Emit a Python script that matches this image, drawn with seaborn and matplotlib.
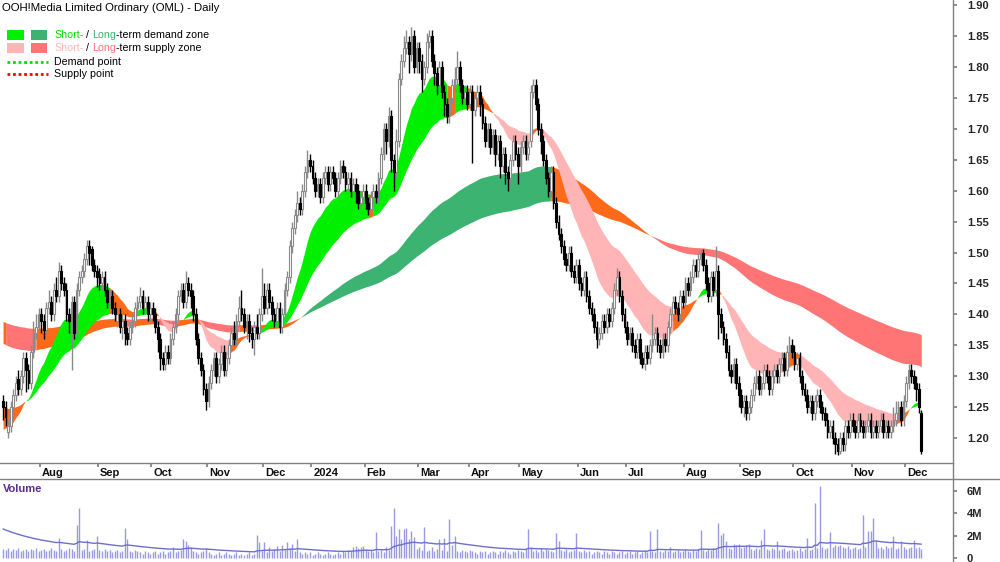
import numpy as np
import pandas as pd
import matplotlib
matplotlib.use("Agg")
import matplotlib.pyplot as plt
from matplotlib.patches import Rectangle
from matplotlib.lines import Line2D
import seaborn as sns

# ---- data (prices in cents, volume in units of 100k shares) ----
start_date = "2023-07-11"
holidays = ["2023-12-25", "2023-12-26", "2024-01-01", "2024-01-26",
            "2024-03-29", "2024-04-01", "2024-04-25", "2024-06-10"]

opens = [
    126, 125, 121, 122, 125, 127, 129.5, 128, 130, 133,
    131, 129, 134, 137, 138, 140, 139, 137.5, 141, 142,
    140, 144, 143, 147, 145, 144, 140, 139, 142, 137,
    144, 146, 147, 149, 151, 150.5, 148, 147, 146.5, 145,
    146, 144, 142, 143, 141, 139, 140, 138, 139, 137,
    136, 138, 139, 141, 142, 143, 141, 142, 140, 141,
    140, 138, 136, 133, 132, 134, 133, 136, 138, 140,
    143, 144, 142, 145, 144, 143, 140, 136, 133, 131,
    128, 126, 129, 131, 133, 130, 132, 134, 131, 133,
    135, 137, 136, 139, 141, 140, 138, 139, 137, 136,
    138, 137, 140, 143, 141, 144, 142, 140, 139, 141,
    138, 140, 144, 146, 151, 154, 156, 158, 157, 160,
    163, 165, 164, 162, 160, 161, 159, 162, 163, 161,
    163, 162, 160, 162, 164, 163, 161, 162, 160, 161,
    160, 158, 159, 160, 158, 157, 159, 160, 159, 162,
    166, 170, 168, 172, 165, 163, 168, 178, 181, 183,
    184, 182, 185, 180, 183, 181, 178, 180, 184, 185,
    181, 179, 177, 180, 176, 174, 172, 175, 177, 178,
    180, 177, 175, 176, 174, 176, 173, 175, 176, 174,
    171, 168, 170, 167, 169, 166, 168, 164, 166, 163,
    162, 165, 168, 166, 164, 167, 168, 166, 168, 176,
    177, 174, 170, 168, 165, 162, 160, 163, 158, 155,
    153, 151, 149, 148, 150, 147, 146, 148, 145, 144,
    146, 143, 141, 140, 138, 136, 137, 139, 138, 140,
    139, 141, 144, 146, 143, 140, 138, 136, 137, 135,
    134, 136, 133, 132, 134, 133, 135, 136, 137, 135,
    134, 136, 135, 138, 140, 142, 141, 140, 143, 142,
    145, 144, 146, 148, 147, 149, 150, 148, 145, 143,
    146, 144, 147, 140, 138, 136, 134, 131, 130, 132,
    129, 127, 125, 126, 124, 125, 127, 129, 130, 128,
    129, 131, 130, 128, 130, 131, 130, 132, 133, 131,
    134, 135, 134, 132, 133, 130, 128, 127, 125, 126,
    124, 126, 127, 125, 124, 123, 121, 122, 120, 119,
    118, 120, 119, 122, 121, 123, 122, 121, 123, 122,
    121, 122, 123, 121, 122, 121, 122, 123, 121, 122,
    121, 122, 123, 124, 125, 123, 126, 129, 131, 130,
    129, 128, 124,
]

highs = [
    127, 126, 123, 126, 128, 130, 131, 131, 134, 134,
    132, 135, 139, 140, 141, 141, 140, 142, 144, 143,
    145, 146, 148.5, 148, 146, 145, 141, 143, 143, 145,
    147, 148, 150, 152, 152, 151, 149, 148, 147.5, 147,
    147, 145, 144, 144, 142, 141, 141, 140, 140, 138,
    139, 140, 142, 143, 144.5, 144, 143, 143, 142, 142,
    141, 139, 137, 134, 135, 135, 137, 139, 141, 144,
    145, 145, 147, 146, 145, 144, 141, 137, 134, 132,
    129, 130, 132, 134, 134, 133, 135, 135, 134, 136,
    138, 139, 140, 143, 144, 141, 140, 140, 138, 139,
    140, 141, 147.5, 145, 145, 145, 143, 141, 142, 142,
    141, 145, 147, 152, 155, 157, 160, 159, 161, 164,
    166.5, 166, 165, 163, 162, 162, 163, 164, 164, 164,
    164, 163, 163, 165, 165, 164, 163, 163, 162, 162,
    161, 160, 161, 161, 159, 160, 161, 161, 163, 167,
    171, 171, 173.5, 173, 166, 170, 179, 182, 185, 186,
    185, 186.5, 186, 184, 184, 182, 181, 185.5, 186, 186,
    182, 180, 181, 181, 177, 175, 176, 178, 180, 182.5,
    181, 178, 177, 177, 177, 177, 176, 177, 177, 175,
    172, 171, 171, 170, 170, 169, 169, 167, 167, 164,
    166, 169, 169, 167, 168, 169, 169, 168, 177, 178,
    178, 175, 171, 169, 166, 163, 164, 164, 159, 156,
    154, 152, 150, 151, 151, 148, 149, 149, 146, 147,
    147, 144, 142, 141, 139, 138, 140, 140, 141, 141,
    142, 145, 147.5, 147, 144, 141, 139, 138, 138, 136,
    137, 137, 134, 135, 135, 136, 140, 138, 138, 136,
    137, 137, 139, 141, 143, 143, 142, 144, 144, 146,
    146, 147, 149, 149, 150, 150.5, 150.5, 149, 146, 147,
    147, 151, 148, 141, 139, 137, 135, 132, 133, 133,
    130, 128, 127, 127, 126, 128, 130, 131, 131, 130,
    132, 132, 131, 131, 132, 132, 133, 134, 134, 135,
    136.5, 136, 135, 134, 134, 131, 129, 128, 127, 127,
    127, 128, 128, 126, 125, 124, 123, 123, 121, 120,
    121, 121, 123, 123, 124, 124, 123, 124, 124, 123,
    123, 124, 124, 123, 123, 123, 124, 124, 123, 123,
    123, 125, 126, 126, 126, 127, 130, 132, 132, 131,
    130, 129, 124.5,
]

lows = [
    123, 122, 120, 121, 124, 126, 127, 127, 129, 127.5,
    128, 128, 133, 136, 137, 137, 136, 137, 140, 139,
    139, 142, 142, 144, 143, 139, 137, 131, 136, 136,
    143, 145, 146, 148, 148, 147, 146, 144.5, 144, 144,
    143, 141, 141, 140, 139, 138, 137, 136, 135, 135,
    135, 137, 138, 140, 141, 140, 140, 139, 139, 139,
    137, 134, 131, 131, 131, 132, 132, 135, 137, 139,
    142, 141, 141, 143, 141, 139, 135, 132, 130, 127,
    124.5, 125, 128, 130, 129, 129, 131, 130, 130, 132,
    134, 135, 135, 138, 139, 137, 136, 135.5, 134.5, 133.5,
    136, 136, 139, 140, 140, 141, 139, 138, 138, 137,
    137, 139, 143, 145, 150, 153, 155, 156, 156, 159,
    162, 163, 161, 159, 159, 158, 158, 161, 160, 160,
    161, 159, 159, 161, 162, 160, 160, 159, 159, 158,
    157, 157, 158, 157, 156, 156, 158, 158, 158, 161,
    165, 166, 167, 163, 160, 162, 167, 177, 180, 182,
    179, 181, 179, 179, 179, 176, 177, 179, 183, 180,
    177, 175.5, 176, 175, 172, 171, 171, 174, 176, 177,
    176, 174, 174, 173, 173, 164.5, 172, 174, 172, 170,
    167, 167, 166, 166, 164, 165, 162, 163, 161, 160,
    161, 164, 165, 161, 163, 166, 165, 165, 167, 175,
    173, 169, 166, 164, 161, 159, 159, 157, 154, 152,
    150, 148, 147, 147, 146, 145, 145, 144, 143, 143,
    142, 140, 139, 137, 134.5, 135, 136, 137, 137, 138,
    138, 140, 143, 142, 139, 137, 135, 135, 134, 133,
    133, 132, 131.3, 131, 132, 132, 134, 135, 134, 133,
    133, 134, 134, 137, 139, 140, 139, 139, 141, 141,
    143, 143, 145, 146, 146, 148, 147, 144, 142, 142,
    143, 143, 136, 137, 135, 133, 130, 129, 129, 128,
    125, 124, 123.5, 123, 123, 124, 126, 128, 127, 127,
    128, 129, 127, 127, 129, 129, 129, 131, 130, 130,
    133, 133, 131, 131, 129, 127, 126, 124, 124, 123,
    123, 125, 124, 123, 122, 120, 120, 119, 117.5, 117.3,
    117.5, 118, 118, 120, 120, 121, 120, 120, 121, 120,
    120, 121, 120, 120, 120, 120, 121, 120, 120, 120,
    120, 121, 122, 123, 122, 122, 125, 128, 129, 128,
    126, 124, 117.5,
]

closes = [
    125, 123.5, 122, 125, 127, 129, 128, 130, 133, 131,
    129, 134, 137, 138, 140, 139, 137.5, 141, 142, 140,
    144, 143, 147, 145, 144, 140, 139, 142, 137, 144,
    146, 147, 149, 151, 150, 148, 147, 146, 145, 146,
    144, 142, 143, 141, 140, 140, 138, 139, 137, 136,
    138, 139, 141, 142, 143, 141, 142, 140, 141, 140,
    138, 136, 133, 132, 134, 133, 136, 138, 140, 143,
    144, 142, 145, 144, 143, 140, 136, 133, 131, 128,
    126, 129, 131, 133, 130, 132, 134, 131, 133, 135,
    137, 136, 139, 141, 140, 138, 139, 137, 136, 138,
    137, 140, 143, 141, 144, 142, 140, 139, 141, 138,
    140, 144, 146, 151, 154, 156, 158, 157, 160, 163,
    165, 164, 162, 160, 161, 159, 162, 163, 161, 163,
    162, 160, 162, 164, 163, 161, 162, 160, 161, 160,
    158, 159, 160, 158, 157, 159, 160, 159, 162, 166,
    170, 168, 172, 165, 163, 168, 178, 181, 183, 184,
    182, 185, 180, 183, 181, 178, 180, 184, 185, 181,
    179, 177, 180, 176, 174, 172, 175, 177, 178, 180,
    177, 175, 176, 174, 176, 173, 175, 176, 174, 171,
    168, 170, 167, 169, 166, 168, 164, 166, 163, 162,
    165, 168, 166, 164, 167, 168, 166, 167, 176, 177,
    174, 170, 168, 165, 162, 160, 163, 158, 155, 153,
    151, 149, 148, 150, 147, 146, 148, 145, 144, 146,
    143, 141, 140, 138, 136, 137, 139, 138, 140, 139,
    141, 144, 146, 143, 140, 138, 136, 137, 135, 134,
    136, 133, 132, 134, 133, 135, 136, 137, 135, 134,
    136, 135, 138, 140, 142, 141, 140, 143, 142, 145,
    144, 146, 148, 147, 149, 150, 148, 145, 143, 146,
    144, 147, 140, 138, 136, 134, 131, 130, 132, 129,
    127, 125, 126, 124, 125, 127, 129, 130, 128, 129,
    131, 130, 128, 130, 131, 130, 132, 133, 131, 134,
    135, 134, 132, 133, 130, 128, 127, 125, 126, 124,
    126, 127, 125, 124, 123, 121, 122, 120, 119, 118,
    120, 119, 122, 121, 123, 122, 121, 123, 122, 121,
    122, 123, 121, 122, 121, 122, 123, 121, 122, 121,
    122, 123, 124, 125, 123, 126, 129, 131, 130, 129,
    128, 125, 118,
]

volumes = [
    8, 7, 9, 6, 8, 7, 9, 6, 7, 8,
    6, 8, 7, 9, 6, 7, 8, 6, 7, 9,
    7, 6, 18, 8, 6, 7, 9, 8, 6, 30,
    45, 7, 8, 16, 6, 7, 8, 20, 7, 6,
    8, 6, 7, 5, 6, 7, 5, 6, 27, 17,
    6, 5, 7, 6, 5, 4, 6, 5, 4, 5,
    6, 4, 5, 6, 4, 5, 6, 10, 5, 6,
    7, 17, 15, 12, 10, 6, 5, 4, 5, 6,
    9, 5, 4, 3, 4, 5, 3, 4, 5, 4,
    3, 4, 5, 3, 4, 3, 4, 5, 3, 4,
    21, 14, 6, 14, 5, 10, 6, 8, 11, 6,
    12, 7, 14, 9, 13, 6, 17, 5, 4, 5,
    4, 5, 3, 4, 5, 4, 3, 4, 5, 4,
    3, 4, 5, 4, 6, 5, 7, 6, 10, 11,
    9, 10, 11, 8, 6, 7, 5, 23, 6, 7,
    5, 10, 7, 29, 45, 20, 26, 17, 26, 27,
    17, 24, 19, 8, 10, 7, 28, 6, 7, 10,
    6, 8, 17, 7, 18, 6, 35, 12, 20, 6,
    5, 7, 6, 5, 7, 6, 5, 4, 6, 5,
    6, 4, 5, 6, 5, 4, 6, 5, 7, 5,
    4, 6, 5, 7, 6, 5, 8, 26, 10, 6,
    7, 5, 9, 6, 8, 7, 6, 5, 22, 15,
    7, 6, 8, 5, 6, 7, 22, 6, 5, 7,
    5, 6, 4, 5, 6, 5, 4, 6, 5, 4,
    6, 5, 4, 5, 6, 4, 5, 6, 4, 5,
    6, 4, 5, 7, 5, 24, 6, 5, 26, 6,
    5, 7, 6, 10, 5, 6, 7, 5, 6, 8,
    6, 5, 7, 6, 8, 25, 7, 6, 8, 7,
    9, 8, 31, 21, 22, 15, 9, 8, 13, 12,
    13, 9, 10, 12, 13, 8, 7, 9, 8, 16,
    26, 8, 7, 9, 8, 15, 7, 8, 9, 6,
    7, 8, 6, 7, 9, 6, 8, 18, 7, 8,
    49, 9, 65, 10, 8, 9, 23, 10, 12, 11,
    12, 10, 9, 11, 8, 9, 10, 8, 9, 39,
    10, 24, 24, 36, 16, 9, 10, 8, 11, 9,
    10, 20, 8, 9, 15, 10, 8, 9, 10, 16,
    9, 10, 8,
]

short_seed = (121.0, 125.0)
long_seed = (135.5, 139.0)
volume_avg_seed = 27

month_labels = ["Aug", "Sep", "Oct", "Nov", "Dec", "2024", "Feb", "Mar", "Apr",
                "May", "Jun", "Jul", "Aug", "Sep", "Oct", "Nov", "Dec"]
month_starts = pd.date_range("2023-08-01", "2024-12-01", freq="MS")


def ema(values, span, seed):
    a = 2.0 / (span + 1)
    out, prev = [], seed
    for v in values:
        prev = prev + a * (v - prev)
        out.append(prev)
    return np.array(out)


def zone_states(fast, slow, lag=3):
    # zone direction from the slope of the band's middle over a few days
    mid = (fast + slow) / 2
    prev = np.concatenate([np.full(lag, mid[0]), mid[:-lag]])
    rising = mid >= prev
    state = np.full(len(fast), "mid", dtype=object)
    state[(fast > slow) & rising] = "demand"
    state[(fast < slow) & ~rising] = "supply"
    return state


def fill_zone(ax, x, fast, slow, colours):
    state = zone_states(fast, slow)
    start = 0
    for i in range(1, len(x) + 1):
        if i == len(x) or state[i] != state[start]:
            end = min(i, len(x) - 1)
            ax.fill_between(x[start:end + 1], fast[start:end + 1], slow[start:end + 1],
                            color=colours[state[start]], lw=0, zorder=2)
            start = i


o = np.array(opens) / 100
h = np.array(highs) / 100
l = np.array(lows) / 100
c = np.array(closes) / 100
vol = np.array(volumes) * 1e5
n = len(c)

dates = pd.bdate_range(start_date, periods=n + 20)
dates = dates[~dates.isin(pd.to_datetime(holidays))][:n]
x = np.arange(n)

st_fast = ema(c, 17, short_seed[0] / 100)
st_slow = ema(c, 42, short_seed[1] / 100)
lt_fast = ema(c, 120, long_seed[0] / 100)
lt_slow = ema(c, 200, long_seed[1] / 100)
vol_avg = ema(vol, 40, volume_avg_seed * 1e5)

# ---- figure ----
sns.set_theme(style="white")
plt.rcParams["font.family"] = ["Liberation Sans", "DejaVu Sans"]

W, H = 1000, 562
fig = plt.figure(figsize=(10, 5.62), dpi=100)
ax = fig.add_axes([0, 99 / H, 953 / W, 463 / H])
vax = fig.add_axes([0, 0, 953 / W, 83 / H])

orange = "#FF6A1A"
fill_zone(ax, x, lt_fast, lt_slow, {"demand": "#3CB371", "supply": "#FF7575", "mid": orange})
fill_zone(ax, x, st_fast, st_slow, {"demand": "#00F000", "supply": "#FFB5B5", "mid": orange})

up = c >= o
grey = "#8a8a8a"
ax.vlines(x[up], l[up], h[up], color=grey, lw=1.0, zorder=3)
ax.vlines(x[~up], l[~up], h[~up], color="black", lw=1.0, zorder=3)
ax.bar(x[up], np.maximum(c - o, 0.001)[up], bottom=o[up], width=0.7,
       color="white", edgecolor=grey, lw=0.8, zorder=4)
ax.bar(x[~up], np.maximum(o - c, 0.001)[~up], bottom=c[~up], width=0.7,
       color="black", edgecolor="black", lw=0.8, zorder=4)

ax.set_xlim(-1.2, 374.5)
ax.set_ylim(1.160, 1.908)
ax.yaxis.tick_right()
yt = np.round(np.arange(1.20, 1.901, 0.05), 2)
ax.set_yticks(yt)
ax.set_yticklabels([f"{v:.2f}" for v in yt], fontsize=8, fontweight="bold")

tick_pos = []
for lab, ms in zip(month_labels, month_starts):
    idx = int(np.searchsorted(dates.values, np.datetime64(ms)))
    tick_pos.append(idx - 0.5)
    ax.text(idx + 0.3, -0.022, lab, transform=ax.get_xaxis_transform(),
            ha="left", va="center", fontsize=8, fontweight="bold", color="#111111")
ax.set_xticks(tick_pos)
ax.set_xticklabels([])
ax.tick_params(axis="both", direction="out", length=3, color="#808080", pad=7,
               bottom=True, right=True, left=False)
for side in ["top", "left", "right"]:
    ax.spines[side].set_visible(False)
ax.spines["bottom"].set_color("#808080")
ax.spines["bottom"].set_linewidth(1.0)

# volume panel
vax.vlines(x, 0, vol, color="#9A9AE0", lw=1.0)
sns.lineplot(x=x, y=vol_avg, ax=vax, color="#6E6ECF", lw=1.0)
vax.set_xlim(-1.2, 374.5)
vax.set_ylim(-0.36e6, 7.09e6)
vax.yaxis.tick_right()
vax.set_yticks([0, 2e6, 4e6, 6e6])
vax.set_yticklabels(["0", "2M", "4M", "6M"], fontsize=8, fontweight="bold")
vax.set_xticks([])
vax.set_ylabel("")
vax.tick_params(axis="y", direction="out", length=3, color="#808080", pad=7, right=True, left=False)
for side in vax.spines:
    vax.spines[side].set_visible(False)

fig.add_artist(Line2D([0, 1], [1 - 479 / H] * 2, transform=fig.transFigure, color="#808080", lw=1.0))
fig.add_artist(Line2D([953 / W] * 2, [0, 1], transform=fig.transFigure, color="#808080", lw=1.0))

fig.text(3 / W, 1 - 489 / H, "Volume", color="#5A2D91", fontsize=8, fontweight="bold",
         ha="left", va="center")

# title and legend
fig.text(2 / W, 1 - 8 / H, "OOH!Media Limited Ordinary (OML) - Daily", fontsize=8.2,
         ha="left", va="center", color="black")


def fx(px):
    return px / W


def fy(py):
    return 1 - py / H


def box(x0, y0, x1, y1, colour):
    fig.add_artist(Rectangle((fx(x0), fy(y1)), fx(x1) - fx(x0), fy(y0) - fy(y1),
                             transform=fig.transFigure, color=colour, lw=0))


box(7, 30, 24, 40, "#00F000")
box(31, 30, 47, 40, "#3CB371")
box(7, 43, 24, 53, "#FFB5B5")
box(31, 43, 47, 53, "#FF7575")
fig.add_artist(Line2D([fx(7), fx(48)], [fy(62)] * 2, transform=fig.transFigure,
                      color="#00E000", lw=2, ls=(0, (1, 1))))
fig.add_artist(Line2D([fx(7), fx(48)], [fy(74)] * 2, transform=fig.transFigure,
                      color="#FF0000", lw=2, ls=(0, (1, 1))))

renderer = fig.canvas.get_renderer()


def colour_text(px, py, parts):
    for s, col in parts:
        t = fig.text(fx(px), fy(py), s, color=col, fontsize=7.7, ha="left", va="center")
        px += t.get_window_extent(renderer=renderer).width


colour_text(54, 35, [("Short-", "#00E000"), (" / ", "black"), ("Long", "#3CB371"),
                     ("-term demand zone", "black")])
colour_text(54, 48, [("Short-", "#FFB5B5"), (" / ", "black"), ("Long", "#FF7575"),
                     ("-term supply zone", "black")])
colour_text(54, 62, [("Demand point", "black")])
colour_text(54, 74, [("Supply point", "black")])

fig.savefig("out.png", dpi=100)
